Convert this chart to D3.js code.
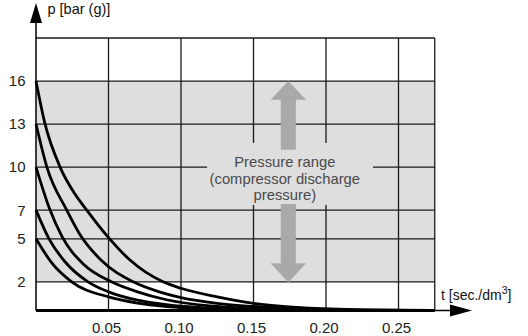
<!DOCTYPE html>
<html><head><meta charset="utf-8">
<script src="https://cdn.jsdelivr.net/npm/d3@7"></script>
<style>body{margin:0;background:#fff}svg{display:block;font-family:"Liberation Sans",Arial,sans-serif}</style>
</head><body><svg id="c" width="528" height="336"></svg>
<script>
// Data
const xTicks = [0.05, 0.10, 0.15, 0.20, 0.25];
const xTickLabels = ["0.05", "0.10", "0.15", "0.20", "0.25"];
const yTicks = [2, 5, 7, 10, 13, 16];
const yTickLabels = ["2", "5", "7", "10", "13", "16"];
const curve16_t = [0, 0.006, 0.0166, 0.027, 0.035, 0.049, 0.065, 0.0876, 0.10, 0.125, 0.15, 0.18, 0.22, 0.275];
const curve16_p = [16, 13.1, 10, 8.1, 7, 5.2, 3.5, 2, 1.55, 0.95, 0.5, 0.22, 0.06, 0];
const curve13_t = [0, 0.0075, 0.0212, 0.0303, 0.045, 0.067, 0.085, 0.10, 0.125, 0.15, 0.18, 0.22, 0.275];
const curve13_p = [13, 10, 7, 5.3, 3.5, 2, 1.3, 0.9, 0.5, 0.28, 0.12, 0.03, 0];
const curve10_t = [0, 0.0097, 0.0177, 0.033, 0.052, 0.07, 0.09, 0.12, 0.15, 0.19, 0.275];
const curve10_p = [10, 7, 5.2, 3.2, 2, 1.3, 0.75, 0.32, 0.14, 0.04, 0];
const curve7_t = [0, 0.009, 0.02, 0.0359, 0.05, 0.07, 0.09, 0.12, 0.15, 0.19, 0.275];
const curve7_p = [7, 5, 3.4, 2, 1.3, 0.72, 0.4, 0.16, 0.06, 0.01, 0];
const curve5_t = [0, 0.011, 0.0246, 0.05, 0.07, 0.09, 0.12, 0.15, 0.19, 0.275];
const curve5_p = [5, 3.3, 2, 0.95, 0.52, 0.28, 0.11, 0.04, 0.01, 0];
const curvesT = [curve16_t, curve13_t, curve10_t, curve7_t, curve5_t];
const curvesP = [curve16_p, curve13_p, curve10_p, curve7_p, curve5_p];
const rangeLabel = ["Pressure range", "(compressor discharge", "pressure)"];
const xTitle = "t [sec./dm";
const yTitle = "p [bar (g)]";

const svg = d3.select("#c");
const x = d3.scaleLinear().domain([0, 0.275]).range([36, 434.75]);
const y = d3.scaleLinear().domain([0, 19]).range([310.5, 38]);
const gridCol = "#1a1a1a";

// shaded pressure range
svg.append("rect").attr("x", x(0)).attr("y", y(16)).attr("width", x(0.275) - x(0)).attr("height", y(2) - y(16)).attr("fill", "#dedede");

// grid
const g = svg.append("g").attr("stroke", gridCol).attr("stroke-width", 1.3).attr("fill", "none");
g.selectAll(".h").data(yTicks.concat([19])).join("line")
  .attr("x1", x(0)).attr("x2", x(0.275)).attr("y1", d => y(d)).attr("y2", d => y(d));
g.selectAll(".v").data(xTicks.concat([0.275])).join("line")
  .attr("x1", d => x(d)).attr("x2", d => x(d)).attr("y1", y(0)).attr("y2", y(19));

// label background box (interrupts grid)
svg.append("rect").attr("x", x(0.118)).attr("y", y(11.68)).attr("width", x(0.2324) - x(0.118)).attr("height", y(7.36) - y(11.68)).attr("fill", "#dedede");

// arrows
const ac = 0.174, hw = 0.0122, sw = 0.0052;
const arrowCol = "#a9a9a9";
const up = [[ac, 16], [ac + hw, 14.7], [ac + sw, 14.7], [ac + sw, 11.2], [ac - sw, 11.2], [ac - sw, 14.7], [ac - hw, 14.7]];
const dn = [[ac, 1.95], [ac + hw, 3.3], [ac + sw, 3.3], [ac + sw, 7.43], [ac - sw, 7.43], [ac - sw, 3.3], [ac - hw, 3.3]];
[up, dn].forEach(pts => svg.append("polygon").attr("points", pts.map(d => x(d[0]) + "," + y(d[1])).join(" ")).attr("fill", arrowCol));

// range label
svg.append("text").attr("text-anchor", "middle").attr("fill", "#4a4a4a").attr("font-size", 14.8)
  .selectAll("tspan").data(rangeLabel).join("tspan")
  .attr("x", x(0.1716)).attr("y", (d, i) => 167 + i * 16.5).text(d => d);

// curves
const line = d3.line().x(d => x(d[0])).y(d => y(d[1])).curve(d3.curveMonotoneX);
curvesT.forEach((ts, i) => {
  svg.append("path").attr("d", line(ts.map((t, j) => [t, curvesP[i][j]])))
    .attr("fill", "none").attr("stroke", "#000").attr("stroke-width", 2.8);
});

// axes
svg.append("line").attr("x1", x(0)).attr("x2", 452).attr("y1", y(0)).attr("y2", y(0)).attr("stroke", "#000").attr("stroke-width", 1.5);
svg.append("line").attr("x1", x(0)).attr("x2", x(0.275)).attr("y1", y(0)).attr("y2", y(0)).attr("stroke", "#000").attr("stroke-width", 2.8);
svg.append("polygon").attr("points", `472,${y(0)} 450,${y(0) - 6} 450,${y(0) + 6}`).attr("fill", "#000");
svg.append("line").attr("x1", x(0)).attr("x2", x(0)).attr("y1", y(0)).attr("y2", 20).attr("stroke", "#000").attr("stroke-width", 1.5);
svg.append("polygon").attr("points", `${x(0)},3 ${x(0) - 6},23 ${x(0) + 6},23`).attr("fill", "#000");

// tick labels
svg.append("g").attr("font-size", 15).attr("fill", "#222").attr("text-anchor", "end")
  .selectAll("text").data(yTicks).join("text")
  .attr("x", 25.5).attr("y", d => y(d)).attr("dy", "0.36em").text((d, i) => yTickLabels[i]);
svg.append("g").attr("font-size", 15).attr("fill", "#222").attr("text-anchor", "middle")
  .selectAll("text").data(xTicks).join("text")
  .attr("x", d => x(d) - 2).attr("y", 333).text((d, i) => xTickLabels[i]);

// axis titles
svg.append("text").attr("x", 47.5).attr("y", 14).attr("font-size", 14.5).attr("fill", "#111").text(yTitle);
const xt = svg.append("text").attr("x", 441).attr("y", 300).attr("font-size", 14).attr("fill", "#111");
xt.append("tspan").text(xTitle);
xt.append("tspan").attr("dy", -6).attr("font-size", 10.5).text("3");
xt.append("tspan").attr("dy", 6).text("]");
</script></body></html>
